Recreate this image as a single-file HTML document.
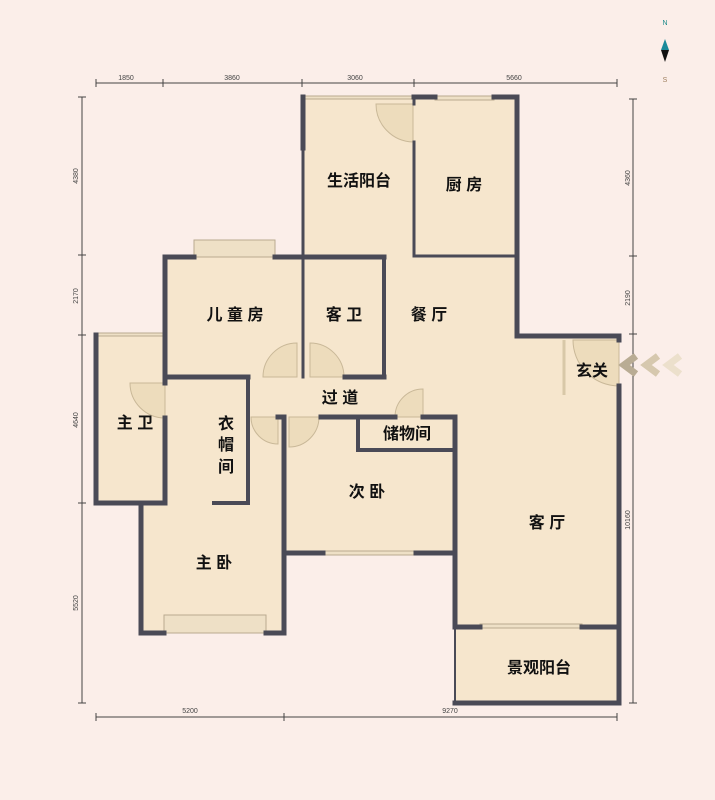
<!DOCTYPE html>
<html><head><meta charset="utf-8"><style>
html,body{margin:0;padding:0;background:#fbeee9;}
svg{display:block}
text{font-family:"Liberation Sans","Noto Sans CJK SC",sans-serif;}
.l{font-size:16px;font-weight:bold;fill:#111;}
.d{font-size:7px;fill:#444;}
</style></head><body>
<svg width="715" height="800" viewBox="0 0 715 800" xmlns="http://www.w3.org/2000/svg">
<rect width="715" height="800" fill="#fbeee9"/>
<!-- floor -->
<g fill="#f6e6cd">
<rect x="303" y="97" width="214" height="160"/>
<rect x="165" y="257" width="352" height="120"/>
<rect x="384" y="257" width="133" height="80"/>
<rect x="384" y="336" width="235" height="81"/>
<rect x="517" y="336" width="102" height="367"/>
<rect x="96" y="335" width="69" height="168"/>
<rect x="141" y="377" width="143" height="256"/>
<rect x="248" y="377" width="371" height="40"/>
<rect x="284" y="417" width="171" height="136"/>
<rect x="455" y="417" width="164" height="286"/>
</g>
<!-- windows -->
<g fill="#eee0c6" stroke="#b9aa90" stroke-width="1">
<rect x="194" y="240" width="81" height="17"/>
<rect x="164" y="615" width="102" height="18"/>
<rect x="435" y="96" width="59" height="4"/>
<rect x="323" y="551" width="93" height="4"/>
<rect x="480" y="624" width="102" height="4"/>
<rect x="303" y="96" width="111" height="3"/>
<rect x="96" y="333" width="69" height="3"/>
</g>
<!-- doors -->
<g fill="#eddcbc" stroke="#c9b898" stroke-width="1">
<path d="M413 104 L413 142 A38 38 0 0 1 376 104 Z"/>
<path d="M297 377 L297 343 A34 34 0 0 0 263 377 Z"/>
<path d="M310 377 L310 343 A34 34 0 0 1 344 377 Z"/>
<path d="M165 383 L165 418 A35 35 0 0 1 130 383 Z"/>
<path d="M278 417 L278 444 A27 27 0 0 1 251 417 Z"/>
<path d="M289 417 L289 447 A30 30 0 0 0 319 417 Z"/>
<path d="M423 417 L423 389 A28 28 0 0 0 395 417 Z"/>
<path d="M619 340 L619 386 A46 46 0 0 1 573 340 Z"/>
</g>
<line x1="564" y1="340" x2="564" y2="395" stroke="#d8c8a8" stroke-width="3"/>
<!-- walls -->
<g stroke="#4a4a56" stroke-width="5" fill="none" stroke-linecap="square">
<path d="M303 97 L303 148"/>
<path d="M303 148 L303 377" stroke-width="3"/>
<path d="M414 97 L435 97 M494 97 L517 97 L517 336 L619 336 L619 340"/>
<path d="M414 97 L414 104 M414 142 L414 256" stroke-width="3"/>
<path d="M414 256 L517 256" stroke-width="3"/>
<path d="M165 257 L194 257 M275 257 L303 257 L384 257"/>
<path d="M384 257 L384 377" stroke-width="4"/>
<path d="M165 257 L165 383 M165 418 L165 503"/>
<path d="M96 335 L96 503 L141 503 M165 503 L141 503 L141 633 L164 633 M266 633 L284 633 L284 417 L278 417"/>
<path d="M165 377 L248 377 M345 377 L384 377"/>
<path d="M248 377 L248 503 L214 503" stroke-width="4"/>
<path d="M321 417 L395 417 M423 417 L455 417 L455 627"/>
<path d="M358 417 L358 450 L455 450" stroke-width="4"/>
<path d="M284 553 L323 553 M416 553 L455 553"/>
<path d="M455 627 L480 627 M582 627 L619 627"/>
<path d="M455 627 L455 703" stroke-width="2"/>
<path d="M455 703 L619 703 L619 386"/>
</g>
<!-- dimension lines -->
<g stroke="#444" stroke-width="1">
<line x1="96" y1="83" x2="617" y2="83"/>
<line x1="96" y1="79" x2="96" y2="87"/><line x1="163" y1="79" x2="163" y2="87"/><line x1="302" y1="79" x2="302" y2="87"/><line x1="414" y1="79" x2="414" y2="87"/><line x1="617" y1="79" x2="617" y2="87"/>
<line x1="96" y1="717" x2="617" y2="717"/>
<line x1="96" y1="713" x2="96" y2="721"/><line x1="284" y1="713" x2="284" y2="721"/><line x1="617" y1="713" x2="617" y2="721"/>
<line x1="82" y1="97" x2="82" y2="703"/>
<line x1="78" y1="97" x2="86" y2="97"/><line x1="78" y1="255" x2="86" y2="255"/><line x1="78" y1="335" x2="86" y2="335"/><line x1="78" y1="503" x2="86" y2="503"/><line x1="78" y1="703" x2="86" y2="703"/>
<line x1="633" y1="99" x2="633" y2="703"/>
<line x1="629" y1="99" x2="637" y2="99"/><line x1="629" y1="256" x2="637" y2="256"/><line x1="629" y1="334" x2="637" y2="334"/><line x1="629" y1="703" x2="637" y2="703"/>
</g>
<g class="d" text-anchor="middle">
<text x="126" y="80">1850</text><text x="232" y="80">3860</text><text x="355" y="80">3060</text><text x="514" y="80">5660</text>
<text x="190" y="713">5200</text><text x="450" y="713">9270</text>
<text transform="translate(78,176) rotate(-90)">4380</text>
<text transform="translate(78,296) rotate(-90)">2170</text>
<text transform="translate(78,420) rotate(-90)">4640</text>
<text transform="translate(78,603) rotate(-90)">5520</text>
<text transform="translate(630,178) rotate(-90)">4360</text>
<text transform="translate(630,298) rotate(-90)">2190</text>
<text transform="translate(630,520) rotate(-90)">10160</text>
</g>
<!-- compass -->
<text x="665" y="25" font-size="7" fill="#1a8a8a" text-anchor="middle">N</text>
<path d="M665 39 L669 50 L661 50 Z" fill="#1a8a9a"/>
<path d="M661 50 L669 50 L665 62 Z" fill="#111"/>
<text x="665" y="82" font-size="7" fill="#a08060" text-anchor="middle">S</text>
<!-- entry arrows -->
<g fill="none" stroke-width="7" stroke-linejoin="miter">
<path d="M636 356 L624 365 L636 374" stroke="#b9ac94"/>
<path d="M658 356 L646 365 L658 374" stroke="#d6c8ae"/>
<path d="M680 356 L668 365 L680 374" stroke="#ece0cc"/>
</g>
<!-- labels -->
<g class="l" text-anchor="middle">
<text x="359" y="186">生活阳台</text>
<text x="464" y="190">厨 房</text>
<text x="235" y="320">儿 童 房</text>
<text x="344" y="320">客 卫</text>
<text x="429" y="320">餐 厅</text>
<text x="592" y="376">玄关</text>
<text x="340" y="403">过 道</text>
<text x="407" y="439">储物间</text>
<text x="135" y="428">主 卫</text>
<text x="226" y="429">衣</text>
<text x="226" y="450">帽</text>
<text x="226" y="472">间</text>
<text x="367" y="497">次 卧</text>
<text x="547" y="528">客 厅</text>
<text x="214" y="568">主 卧</text>
<text x="539" y="673">景观阳台</text>
</g>
</svg>
</body></html>
